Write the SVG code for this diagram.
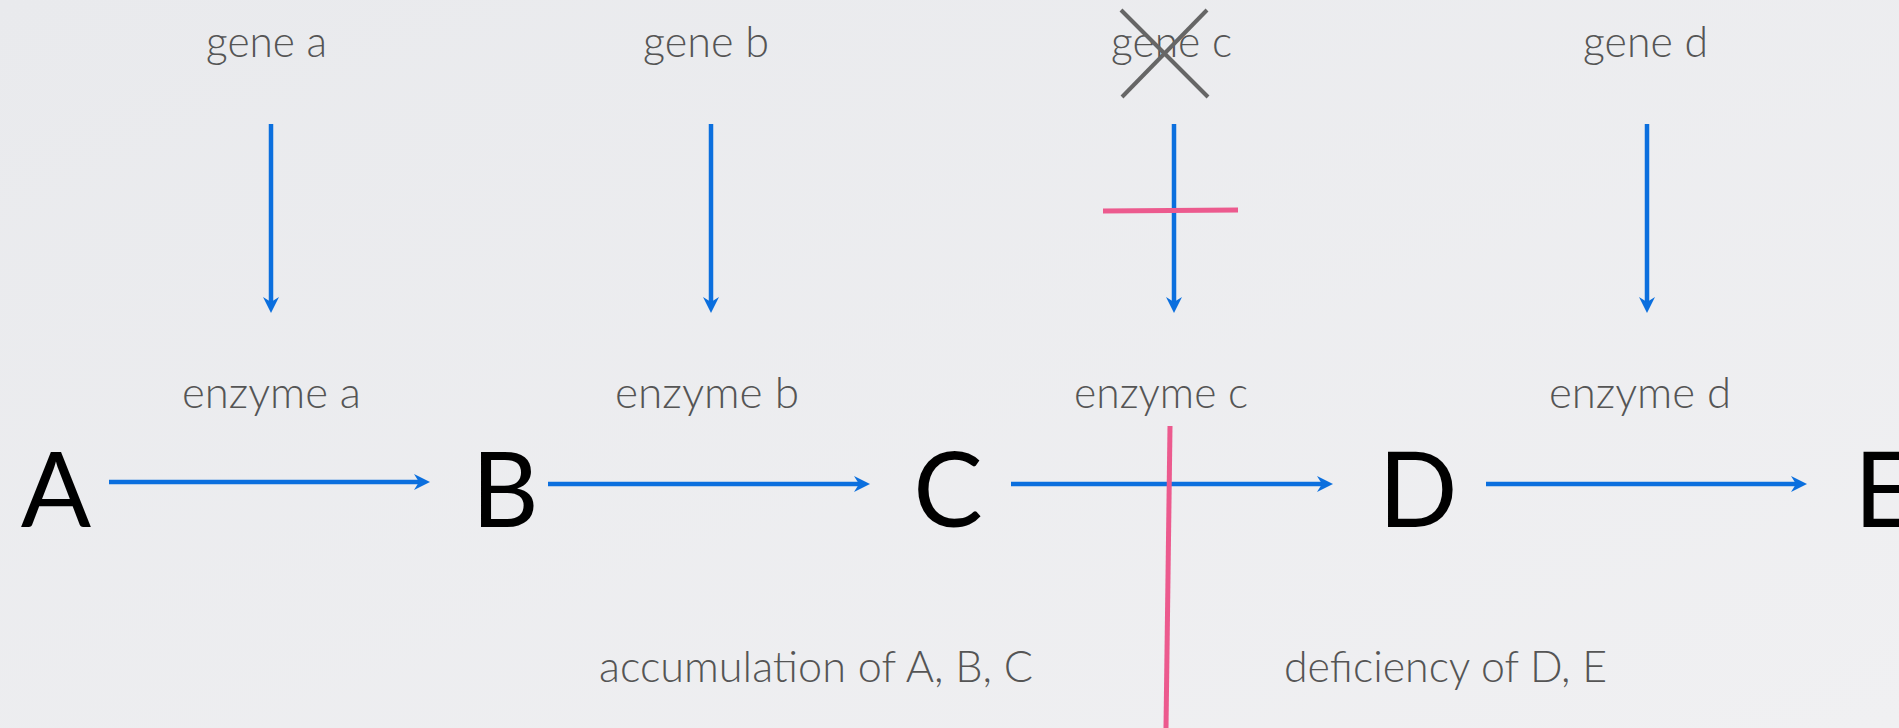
<svg xmlns="http://www.w3.org/2000/svg" width="1899" height="728" viewBox="0 0 1899 728">
  <defs>
    <marker id="ah" markerUnits="userSpaceOnUse" markerWidth="16" markerHeight="16" refX="8" refY="8" orient="auto" viewBox="0 0 16 16">
      <path d="M0,0 L16,8 L0,16 L5,8 Z" fill="#0B6FDE"/>
    </marker>
    <linearGradient id="bg" x1="0" y1="0" x2="1" y2="1">
      <stop offset="0" stop-color="#E9EAED"/>
      <stop offset="1" stop-color="#F0F0F2"/>
    </linearGradient>
  </defs>
  <style>
    .lbl { font-family: "Lato", "Open Sans", "Liberation Sans", sans-serif; font-weight: 300; font-size: 44px; fill: #555555; }
    .big { font-family: "Lato", "Open Sans", "Liberation Sans", sans-serif; font-weight: 400; font-size: 104px; fill: #000000; text-anchor: middle; }
    .arr { stroke: #0B6FDE; stroke-width: 4.5; fill: none; marker-end: url(#ah); }
    .block { stroke: #EC5A8E; stroke-width: 5; fill: none; }
    .cross { stroke: #666666; stroke-width: 4; fill: none; }
  </style>
  <rect x="0" y="0" width="1899" height="728" fill="url(#bg)"/>

  <g id="gene-a"><text class="lbl" x="206" y="57" textLength="121" lengthAdjust="spacingAndGlyphs">gene a</text></g>
  <g id="gene-b"><text class="lbl" x="643" y="57" textLength="126" lengthAdjust="spacingAndGlyphs">gene b</text></g>
  <g id="gene-c">
    <text class="lbl" x="1111" y="57" textLength="121" lengthAdjust="spacingAndGlyphs">gene c</text>
    <line class="cross" x1="1121" y1="10" x2="1208" y2="97"/>
    <line class="cross" x1="1207" y1="10" x2="1122" y2="97"/>
  </g>
  <g id="gene-d"><text class="lbl" x="1583" y="57" textLength="125" lengthAdjust="spacingAndGlyphs">gene d</text></g>

  <g id="enzyme-a"><text class="lbl" x="182" y="408" textLength="179" lengthAdjust="spacingAndGlyphs">enzyme a</text></g>
  <g id="enzyme-b"><text class="lbl" x="615" y="408" textLength="184" lengthAdjust="spacingAndGlyphs">enzyme b</text></g>
  <g id="enzyme-c"><text class="lbl" x="1074" y="408" textLength="174" lengthAdjust="spacingAndGlyphs">enzyme c</text></g>
  <g id="enzyme-d"><text class="lbl" x="1549" y="408" textLength="182" lengthAdjust="spacingAndGlyphs">enzyme d</text></g>

  <g id="node-A"><text class="big" x="56" y="527">A</text></g>
  <g id="node-B"><text class="big" x="505" y="527">B</text></g>
  <g id="node-C"><text class="big" x="948" y="527">C</text></g>
  <g id="node-D"><text class="big" x="1418" y="527">D</text></g>
  <g id="node-E"><text class="big" x="1884" y="527">E</text></g>

  <g id="accumulation"><text class="lbl" x="599" y="682" textLength="434" lengthAdjust="spacingAndGlyphs">accumulation of A, B, C</text></g>
  <g id="deficiency"><text class="lbl" x="1284" y="682" textLength="323" lengthAdjust="spacingAndGlyphs">deficiency of D, E</text></g>

  <g id="connectors">
    <line class="arr" x1="271" y1="124" x2="271" y2="305"/>
    <line class="arr" x1="711" y1="124" x2="711" y2="305"/>
    <line class="arr" x1="1174" y1="124" x2="1174" y2="305"/>
    <line class="arr" x1="1647" y1="124" x2="1647" y2="305"/>
    <line class="arr" x1="109" y1="482" x2="422" y2="482"/>
    <line class="arr" x1="548" y1="484" x2="862" y2="484"/>
    <line class="arr" x1="1011" y1="484" x2="1325" y2="484"/>
    <line class="arr" x1="1486" y1="484" x2="1799" y2="484"/>
  </g>

  <g id="blocks">
    <line class="block" x1="1103" y1="211" x2="1238" y2="210"/>
    <line class="block" x1="1170" y1="426" x2="1166" y2="728"/>
  </g>
</svg>
